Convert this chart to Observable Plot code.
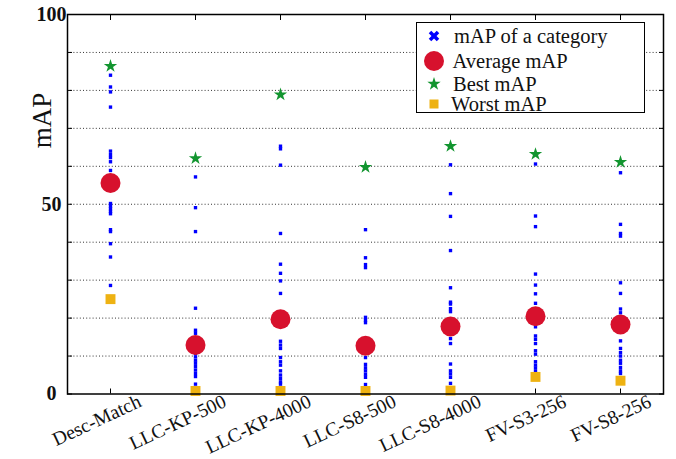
<!DOCTYPE html>
<html>
<head>
<meta charset="utf-8">
<script src="https://cdn.jsdelivr.net/npm/d3@7"></script>
<script src="https://cdn.jsdelivr.net/npm/@observablehq/plot@0.6"></script>
<style>
  body { margin: 0; background: #fff; }
  #wrap { position: relative; width: 676px; height: 459px; font-family: "Liberation Serif", "Times New Roman", serif; color: #111; }
  #wrap svg text { font-family: "Liberation Serif", "Times New Roman", serif; }
  #legend { position: absolute; left: 416px; top: 22px; width: 229px; height: 91px; border: 1.5px solid #000; background: #fff; box-sizing: border-box; }
  #legend svg { position: absolute; overflow: visible; }
  #legend span { position: absolute; font-family: "Liberation Serif", "Times New Roman", serif; font-size: 20.5px; line-height: 21px; white-space: nowrap; }
</style>
</head>
<body>
<div id="wrap"></div>
<script>
// ---- data ----
const categories = ["Desc-Match", "LLC-KP-500", "LLC-KP-4000", "LLC-S8-500", "LLC-S8-4000", "FV-S3-256", "FV-S8-256"];

const descMatch = [84.0, 80.9, 79.6, 75.6, 64.0, 63.1, 62.3, 61.2, 58.9, 50.2, 49.5, 48.8, 48.1, 47.5, 43.3, 42.8, 39.6, 36.1, 28.6];
const llcKp500 = [57.2, 49.1, 42.8, 22.6, 16.8, 16.0, 11.6, 10.7, 9.8, 8.9, 8.1, 7.2, 6.3, 5.4, 4.6, 2.6];
const llcKp4000 = [65.3, 64.6, 60.3, 42.3, 34.2, 31.8, 29.8, 26.5, 13.9, 12.9, 12.0, 9.6, 8.5, 7.6, 6.1, 5.0, 4.1, 3.2, 2.6];
const llcS8500 = [43.3, 35.9, 34.1, 33.3, 20.2, 19.5, 18.8, 9.6, 7.8, 6.9, 6.1, 5.2, 4.4, 2.5];
const llcS84000 = [60.4, 52.8, 46.8, 37.8, 28.0, 24.2, 23.7, 22.5, 21.7, 14.6, 13.3, 7.9, 6.1, 5.3, 4.4, 2.8];
const fvS3256 = [60.6, 46.9, 44.1, 31.6, 28.7, 26.4, 23.9, 17.7, 15.3, 14.4, 13.3, 11.4, 10.5, 8.5, 7.6, 6.8, 5.9];
const fvS8256 = [58.3, 44.7, 42.3, 41.6, 29.3, 26.5, 22.4, 21.4, 16.4, 14.0, 12.0, 10.9, 10.0, 8.9, 8.1, 7.0, 6.1, 5.4];

const averageMAP = [55.6, 12.9, 19.7, 12.7, 17.8, 20.5, 18.3];
const bestMAP = [86.4, 62.1, 78.9, 59.8, 65.3, 63.2, 61.1];
const worstMAP = [25.0, 0.8, 0.8, 0.8, 0.9, 4.5, 3.5];

const yLabelTicks = [0, 50, 100];
const yMinorTicks = [0, 10, 20, 30, 40, 50, 60, 70, 80, 90, 100];
const gridTicks = [10, 20, 30, 40, 50, 60, 70, 80, 90];

const yTitle = "mAP";
const legendLabels = ["mAP of a category", "Average mAP", "Best mAP", "Worst mAP"];

// ---- colours ----
const BLUE = "#0000ff", RED = "#d7112d", GREEN = "#12952f", YELLOW = "#eeb212";
const SERIF = "Liberation Serif";

// ---- tables ----
const perCategory = [descMatch, llcKp500, llcKp4000, llcS8500, llcS84000, fvS3256, fvS8256];
const rows = categories.flatMap((c, i) => perCategory[i].map(v => ({category: c, mAP: v})));
const summary = categories.map((c, i) => ({category: c, avg: averageMAP[i], best: bestMAP[i], worst: worstMAP[i]}));

const chart = Plot.plot({
  width: 676,
  height: 459,
  marginLeft: 67,
  marginRight: 13,
  marginTop: 14,
  marginBottom: 65.5,
  style: {fontFamily: "'Liberation Serif', serif", background: "white", color: "#111"},
  x: {type: "point", domain: categories, padding: 0.5, axis: null},
  y: {domain: [0, 100], axis: null},
  marks: [
    Plot.gridY(gridTicks, {stroke: "#333", strokeOpacity: 1, strokeDasharray: "1,2.2"}),
    Plot.axisY(yMinorTicks, {anchor: "left", tickSize: 5, dx: 5, text: null, label: null, stroke: "#000"}),
    Plot.axisY(yMinorTicks, {anchor: "right", tickSize: 5, dx: -5, text: null, label: null, stroke: "#000"}),
    Plot.axisX({anchor: "top", tickSize: 5, dy: 5, text: null, label: null, stroke: "#000"}),
    Plot.axisX({anchor: "bottom", tickSize: 5, dy: -5, text: null, label: null, stroke: "#000"}),
    Plot.axisY(yLabelTicks, {anchor: "left", tickSize: 0, tickPadding: 16, textAnchor: "middle", fontSize: 20, fontWeight: "bold", fontFamily: SERIF, label: null}),
    Plot.text(categories, {x: d => d, frameAnchor: "bottom", rotate: -25, textAnchor: "end", lineAnchor: "bottom", dx: 32, dy: 12, fontSize: 19.5, fontFamily: SERIF}),
    Plot.text([yTitle], {frameAnchor: "top-left", dx: -36, dy: 106, rotate: -90, textAnchor: "middle", fontSize: 27, fontFamily: SERIF}),
    Plot.dot(rows, {x: "category", y: "mAP", symbol: "square", r: 1.9, fill: BLUE}),
    Plot.dot(summary, {x: "category", y: "avg", r: 10, fill: RED}),
    Plot.dot(summary, {x: "category", y: "best", symbol: "star", r: 4.2, fill: GREEN}),
    Plot.dot(summary, {x: "category", y: "worst", symbol: "square", r: 5.6, fill: YELLOW}),
    Plot.frame({stroke: "#000", strokeWidth: 1.5})
  ]
});

const wrap = document.getElementById("wrap");
wrap.appendChild(chart);

// ---- legend ----
const legend = document.createElement("div");
legend.id = "legend";
const starPath = d3.symbol(d3.symbolStar, 4.2 * 4.2 * Math.PI)();
const legendItems = [
  {cy: 14, tx: 37, svg: `<line x1="-4" y1="-4" x2="4" y2="4" stroke="${BLUE}" stroke-width="3.5"/><line x1="-4" y1="4" x2="4" y2="-4" stroke="${BLUE}" stroke-width="3.5"/>`},
  {cy: 39.5, tx: 35.5, svg: `<circle r="10" fill="${RED}"/>`},
  {cy: 62, tx: 36, svg: `<path d="${starPath}" fill="${GREEN}"/>`},
  {cy: 82.5, tx: 34, svg: `<rect x="-4.5" y="-4.5" width="9" height="9" fill="${YELLOW}"/>`}
];
legendItems.forEach((it, i) => {
  const s = document.createElementNS("http://www.w3.org/2000/svg", "svg");
  s.setAttribute("width", "1"); s.setAttribute("height", "1");
  s.style.left = "17px"; s.style.top = (it.cy - 1.5) + "px";
  s.innerHTML = it.svg;
  legend.appendChild(s);
  const t = document.createElement("span");
  t.textContent = legendLabels[i];
  t.style.left = it.tx + "px";
  t.style.top = (it.cy - 11.5) + "px";
  legend.appendChild(t);
});
wrap.appendChild(legend);
</script>
</body>
</html>
